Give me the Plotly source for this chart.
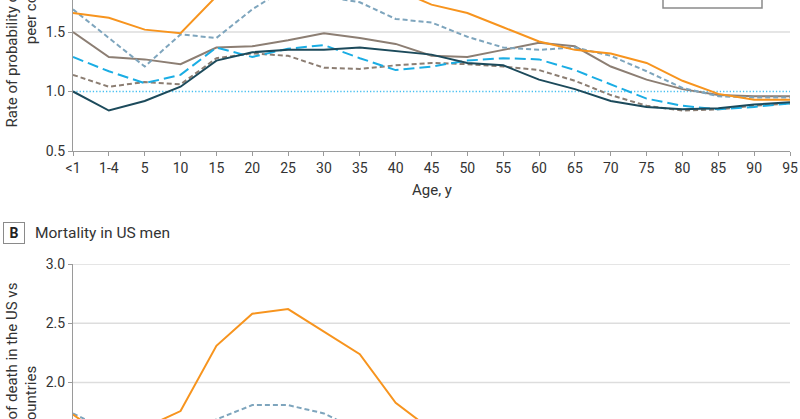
import plotly.graph_objects as go

ages = ["<1", "1-4", "5", "10", "15", "20", "25", "30", "35", "40", "45",
        "50", "55", "60", "65", "70", "75", "80", "85", "90", "95"]

# Panel A (top, partially visible)
a_orange = [1.66, 1.62, 1.52, 1.49, 1.80, 2.05, 2.15, 2.10, 2.00, 1.86, 1.73,
            1.66, 1.54, 1.42, 1.35, 1.32, 1.24, 1.09, 0.98, 0.93, 0.93]
a_bluegray = [1.69, 1.45, 1.21, 1.48, 1.45, 1.69, 1.88, 1.80, 1.75, 1.61, 1.58,
              1.46, 1.37, 1.35, 1.37, 1.30, 1.17, 1.03, 0.96, 0.95, 0.95]
a_gray_solid = [1.50, 1.29, 1.27, 1.23, 1.37, 1.38, 1.43, 1.49, 1.45, 1.40, 1.30,
                1.29, 1.35, 1.41, 1.38, 1.21, 1.10, 1.02, 0.97, 0.96, 0.96]
a_cyan = [1.29, 1.17, 1.07, 1.14, 1.37, 1.29, 1.36, 1.39, 1.28, 1.18, 1.21,
          1.26, 1.28, 1.27, 1.18, 1.06, 0.94, 0.88, 0.85, 0.87, 0.90]
a_gray_dash = [1.14, 1.04, 1.08, 1.06, 1.28, 1.32, 1.30, 1.20, 1.19, 1.22, 1.24,
               1.23, 1.21, 1.18, 1.09, 0.97, 0.88, 0.84, 0.85, 0.88, 0.90]
a_teal = [1.00, 0.84, 0.92, 1.04, 1.26, 1.33, 1.35, 1.35, 1.37, 1.34, 1.31,
          1.24, 1.22, 1.10, 1.02, 0.92, 0.87, 0.85, 0.86, 0.89, 0.91]

# Panel B (bottom, partially visible)
b_orange = [1.73, 1.52, 1.62, 1.76, 2.31, 2.58, 2.62, 2.43, 2.24, 1.83, 1.60,
            1.50, 1.42, 1.35, 1.30, 1.25, 1.18, 1.08, 1.00, 0.95, 0.93]
b_bluegray = [1.74, 1.60, 1.45, 1.55, 1.69, 1.81, 1.81, 1.74, 1.59, 1.50, 1.45,
              1.40, 1.35, 1.30, 1.28, 1.22, 1.12, 1.02, 0.96, 0.95, 0.95]

grid_values = [1.5, 2.0, 2.5, 3.0]
ref_value = 1.0
ytick_values = [0.5, 1.0, 1.5, 2.0, 2.5, 3.0]

ORANGE = "#F7941E"
BLUEGRAY = "#7EA5BD"
GRAY = "#8C7E73"
CYAN = "#1AADE4"
TEAL = "#1C4A5B"
FONT = "Roboto"

W, H = 800, 419
ML, MR = 73, 10
PW = W - ML - MR

def py(p):
    return (H - p) / H

def px(p):
    return (p - ML) / PW

fig = go.Figure()

series_a = [
    (a_gray_dash, GRAY, "5px,3px"),
    (a_gray_solid, GRAY, "solid"),
    (a_bluegray, BLUEGRAY, "5px,3px"),
    (a_cyan, CYAN, "11px,5px"),
    (a_teal, TEAL, "solid"),
    (a_orange, ORANGE, "solid"),
]
for vals, col, dash in series_a:
    fig.add_trace(go.Scatter(x=ages, y=vals, mode="lines", xaxis="x", yaxis="y",
                             line=dict(color=col, width=2, dash=dash),
                             showlegend=False, hoverinfo="skip"))

series_b = [
    (b_bluegray, BLUEGRAY, "5px,3px"),
    (b_orange, ORANGE, "solid"),
]
for vals, col, dash in series_b:
    fig.add_trace(go.Scatter(x=ages, y=vals, mode="lines", xaxis="x2", yaxis="y2",
                             line=dict(color=col, width=2, dash=dash),
                             showlegend=False, hoverinfo="skip"))

shapes = []
a_range = [0.5, 1.769]
b_range = [1.693, 3.0]
for g in grid_values:
    if a_range[0] < g <= a_range[1]:
        shapes.append(dict(type="line", xref="x domain", yref="y", x0=0, x1=1, y0=g, y1=g,
                           line=dict(color="#DDDDDD", width=1.5), layer="below"))
    if b_range[0] < g <= b_range[1]:
        shapes.append(dict(type="line", xref="x2 domain", yref="y2", x0=0, x1=1, y0=g, y1=g,
                           line=dict(color="#DDDDDD", width=1.5), layer="below"))
shapes.append(dict(type="line", xref="x domain", yref="y", x0=0, x1=1, y0=ref_value, y1=ref_value,
                   line=dict(color="#45BFF0", width=1.3, dash="1.3px,2px"), layer="below"))
# legend box (cut off at top)
shapes.append(dict(type="rect", xref="paper", yref="paper", x0=px(663), x1=px(762),
                   y0=py(8), y1=1.2, line=dict(color="#8A8A8A", width=1.5),
                   fillcolor="white", layer="above"))

axis_common = dict(showline=True, linecolor="#9A9A9A", linewidth=1, ticks="outside",
                   ticklen=4, tickcolor="#9A9A9A", showgrid=False, zeroline=False,
                   tickfont=dict(family=FONT, size=14, color="#333333"))

ytitle = "Rate of probability of death in the US vs<br>peer countries"

fig.update_layout(
    width=W, height=H,
    margin=dict(l=ML, r=MR, t=0, b=0, autoexpand=False),
    plot_bgcolor="white", paper_bgcolor="white",
    xaxis=dict(domain=[0, 1], anchor="y", type="category", categoryorder="array",
               categoryarray=ages, range=[0, 20], **axis_common),
    yaxis=dict(domain=[py(151), 1], anchor="x", range=a_range, tickvals=ytick_values,
               ticktext=["0.5", "1.0", "1.5", "2.0", "2.5", "3.0"], **axis_common),
    xaxis2=dict(domain=[0, 1], anchor="y2", type="category", categoryorder="array",
                categoryarray=ages, range=[0, 20], showline=False, showticklabels=False,
                ticks="", showgrid=False, zeroline=False),
    yaxis2=dict(domain=[0, py(264)], anchor="x2", range=b_range, tickvals=ytick_values,
                ticktext=["0.5", "1.0", "1.5", "2.0", "2.5", "3.0"], **axis_common),
    shapes=shapes,
    annotations=[
        dict(text="Age, y", xref="paper", yref="paper", x=0.5, y=py(190),
             showarrow=False, xanchor="center", yanchor="middle",
             font=dict(family=FONT, size=15, color="#333333")),
        dict(text=ytitle, xref="paper", yref="paper", x=px(21.5), y=py(-3),
             showarrow=False, xanchor="center", yanchor="middle", textangle=-90,
             font=dict(family=FONT, size=15, color="#333333")),
        dict(text=ytitle, xref="paper", yref="paper", x=px(21.5), y=py(414),
             showarrow=False, xanchor="center", yanchor="middle", textangle=-90,
             font=dict(family=FONT, size=15, color="#333333")),
        dict(text="<b>B</b>", xref="paper", yref="paper", x=px(14), y=py(233),
             showarrow=False, xanchor="center", yanchor="middle", width=20, height=20,
             bordercolor="#8A8A8A", borderwidth=1, borderpad=0,
             font=dict(family=FONT, size=14, color="#222222")),
        dict(text="Mortality in US men", xref="paper", yref="paper", x=px(33), y=py(233),
             showarrow=False, xanchor="left", yanchor="middle",
             font=dict(family=FONT, size=15.5, color="#333333")),
    ],
)

fig.write_html("out.html", config={"displayModeBar": False},
               post_script="document.body.style.margin='0';document.body.style.overflow='hidden';")
